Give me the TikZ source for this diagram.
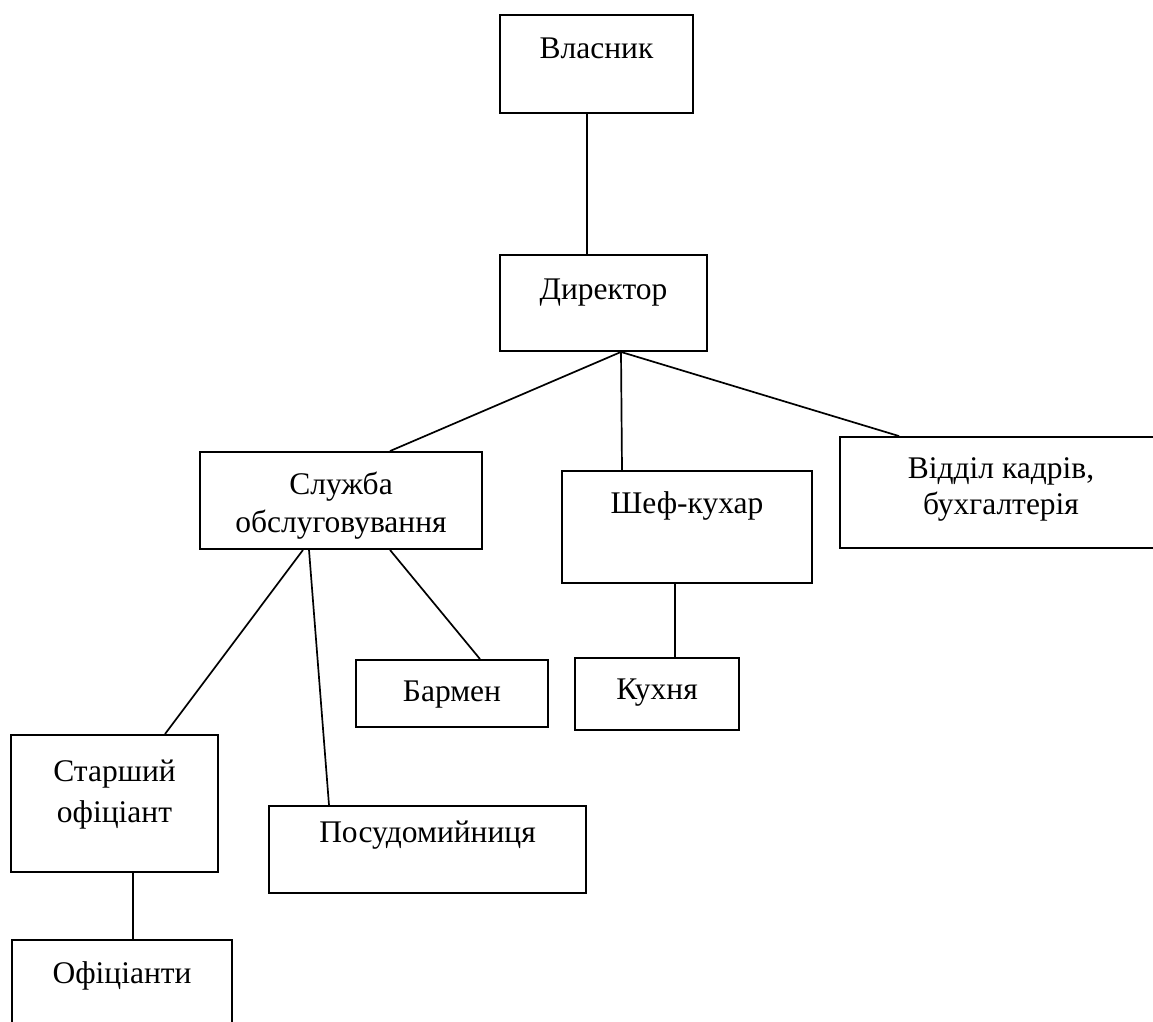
\documentclass[tikz,border=0pt]{standalone}
\usepackage{fontspec}
\setmainfont{Liberation Serif}
\usetikzlibrary{calc}
\begin{document}
\begin{tikzpicture}[x=1pt,y=-1pt,
  box/.style={draw, line width=1.9pt, rectangle, inner sep=0pt},
  lbl/.style={anchor=base, inner sep=0pt, font=\fontsize{31.5}{40}\selectfont},
  con/.style={line width=1.7pt}]
\clip (0,0) rectangle (1153,1021);
\fill[white] (0,0) rectangle (1153,1021);
% boxes
\node[box, minimum width=193pt, minimum height=98pt] (vl) at (596.5,64) {};
\node[box, minimum width=207pt, minimum height=96pt] (dir) at (603.5,303) {};
\node[box, minimum width=282pt, minimum height=97pt] (sl) at (341,500.5) {};
\node[box, minimum width=250pt, minimum height=112pt] (shef) at (687,527) {};
\node[box, minimum width=322pt, minimum height=111pt] (vid) at (1001,492.5) {};
\node[box, minimum width=192pt, minimum height=67pt] (bar) at (452,693.5) {};
\node[box, minimum width=164pt, minimum height=72pt] (kuh) at (657,694) {};
\node[box, minimum width=207pt, minimum height=137pt] (star) at (114.5,803.5) {};
\node[box, minimum width=317pt, minimum height=87pt] (pos) at (427.5,849.5) {};
\node[box, minimum width=220pt, minimum height=100pt] (of) at (122,990) {};
% texts
\node[lbl] (tvl) at (596.5,58) {Власник};
\node[lbl] (tdir) at (603.5,299) {Директор};
\node[lbl] (tsl1) at (341,494) {Служба};
\node[lbl] (tsl2) at (341,532) {обслуговування};
\node[lbl] (tshef) at (687,513) {Шеф-кухар};
\node[lbl] (tvid1) at (1001,478) {Відділ кадрів,};
\node[lbl] (tvid2) at (1001,514) {бухгалтерія};
\node[lbl] (tbar) at (452,701) {Бармен};
\node[lbl] (tkuh) at (657,699) {Кухня};
\node[lbl] (tstar1) at (114.5,781) {Старший};
\node[lbl] (tstar2) at (114.5,822) {офіціант};
\node[lbl] (tpos) at (427.5,842) {Посудомийниця};
\node[lbl] (tof) at (122,983) {Офіціанти};
% connectors
\draw[con] ([xshift=-9.5pt]vl.south) -- ([xshift=-16.5pt]dir.north);
\coordinate (dv) at ([xshift=17.5pt]dir.south);
\draw[con] (dv) -- ([xshift=49pt]sl.north);
\draw[con] (dv) -- ([xshift=-65pt]shef.north);
\draw[con] (dv) -- ([xshift=-102pt]vid.north);
\draw[con] ([xshift=-38pt]sl.south) -- ([xshift=50.5pt]star.north);
\draw[con] ([xshift=-32pt]sl.south) -- ([xshift=-98.5pt]pos.north);
\draw[con] ([xshift=49pt]sl.south) -- ([xshift=28pt]bar.north);
\draw[con] ([xshift=-12pt]shef.south) -- ([xshift=18pt]kuh.north);
\draw[con] ([xshift=18.5pt]star.south) -- ([xshift=11pt]of.north);
\end{tikzpicture}
\end{document}
